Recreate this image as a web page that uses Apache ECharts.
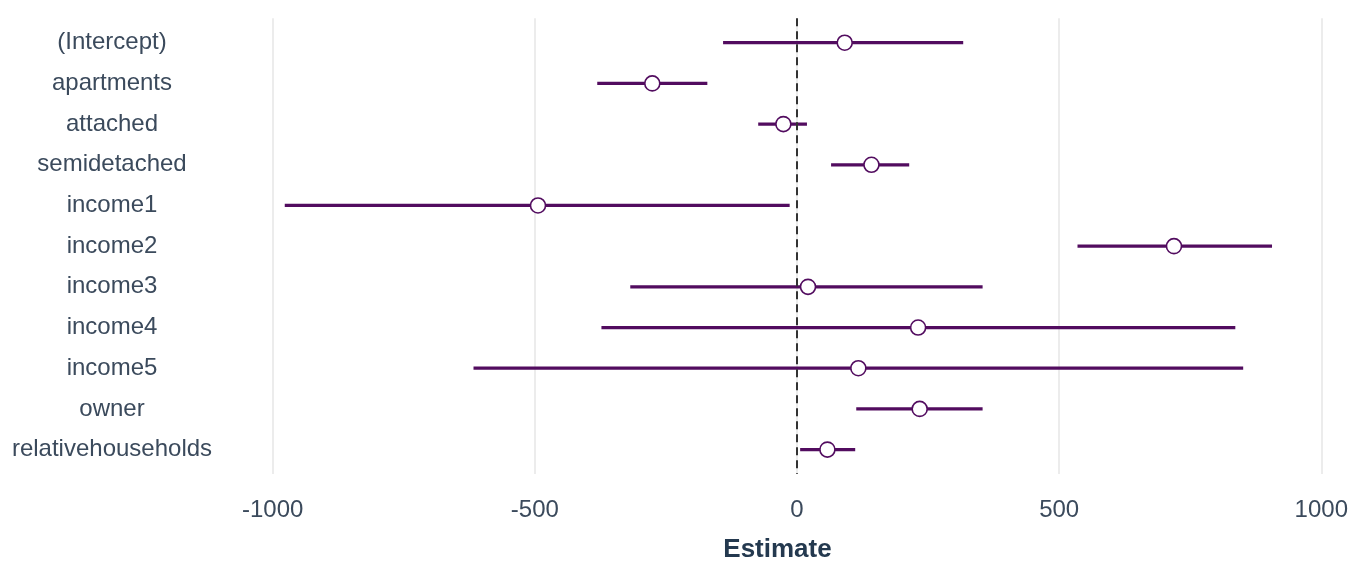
<!DOCTYPE html>
<html>
<head>
<meta charset="utf-8">
<script src="https://cdn.jsdelivr.net/npm/echarts@6/dist/echarts.min.js"></script>
<style>
  html, body { margin: 0; padding: 0; background: #ffffff; }
  #chart { width: 1351px; height: 568px; }
</style>
</head>
<body>
<div id="chart"></div>
<script>
const categories = ['(Intercept)', 'apartments', 'attached', 'semidetached', 'income1', 'income2', 'income3', 'income4', 'income5', 'owner', 'relativehouseholds'];
const estimates = [91, -276, -26, 142, -494, 719, 21, 231, 117, 234, 58];
const lower = [-141, -381, -74, 65, -977, 535, -318, -373, -617, 113, 6];
const upper = [317, -171, 19, 214, -14, 906, 354, 836, 851, 354, 111];
const xTicks = [-1000, -500, 0, 500, 1000];

const purple = '#520c5f';
const labelColor = '#3b4a5c';
const titleColor = '#24394f';

const chart = echarts.init(document.getElementById('chart'), null, { renderer: 'canvas' });

const rangeData = categories.map((c, i) => [lower[i], upper[i], i]);
const pointData = categories.map((c, i) => [estimates[i], i]);

chart.setOption({
  animation: false,
  backgroundColor: '#ffffff',
  grid: { left: 272.7, right: 25.3, top: 18.3, bottom: 89.3, containLabel: false },
  xAxis: {
    type: 'value',
    min: xTicks[0],
    max: xTicks[xTicks.length - 1],
    interval: 500,
    axisLine: { show: false },
    axisTick: { show: false },
    splitLine: { show: true, lineStyle: { color: '#e6e6e6', width: 1.5 } },
    axisLabel: {
      color: labelColor, fontFamily: 'Liberation Sans, Arial, sans-serif', fontSize: 24, margin: 24,
      formatter: v => String(v)
    },
    name: 'Estimate',
    nameLocation: 'middle',
    nameGap: 63,
    nameTextStyle: {
      color: titleColor, fontFamily: 'Liberation Sans, Arial, sans-serif', fontSize: 26, fontWeight: 'bold',
      padding: [0, 39, 0, 0]
    }
  },
  yAxis: {
    type: 'value',
    inverse: true,
    min: -0.6,
    max: 10.6,
    axisLine: { show: false },
    axisTick: { show: false },
    splitLine: { show: false },
    axisLabel: {
      customValues: categories.map((c, i) => i),
      formatter: v => categories[Math.round(v)] ?? '',
      color: labelColor, fontFamily: 'Liberation Sans, Arial, sans-serif', fontSize: 24,
      align: 'center', margin: 160.7
    }
  },
  series: [
    {
      type: 'custom',
      data: rangeData,
      encode: { x: [0, 1], y: 2 },
      z: 2,
      renderItem: (params, api) => {
        const p1 = api.coord([api.value(0), api.value(2)]);
        const p2 = api.coord([api.value(1), api.value(2)]);
        return {
          type: 'line',
          shape: { x1: p1[0], y1: p1[1], x2: p2[0], y2: p2[1] },
          style: { stroke: purple, lineWidth: 3.2, lineCap: 'butt' }
        };
      },
      markLine: {
        silent: true,
        symbol: 'none',
        label: { show: false },
        lineStyle: { color: '#333333', type: [8, 5], width: 2 },
        data: [{ xAxis: 0 }],
        z: 3
      }
    },
    {
      type: 'scatter',
      data: pointData,
      symbol: 'circle',
      symbolSize: 15,
      z: 5,
      itemStyle: { color: '#ffffff', borderColor: purple, borderWidth: 1.6, opacity: 1 },
      emphasis: { disabled: true }
    }
  ]
});
</script>
</body>
</html>
